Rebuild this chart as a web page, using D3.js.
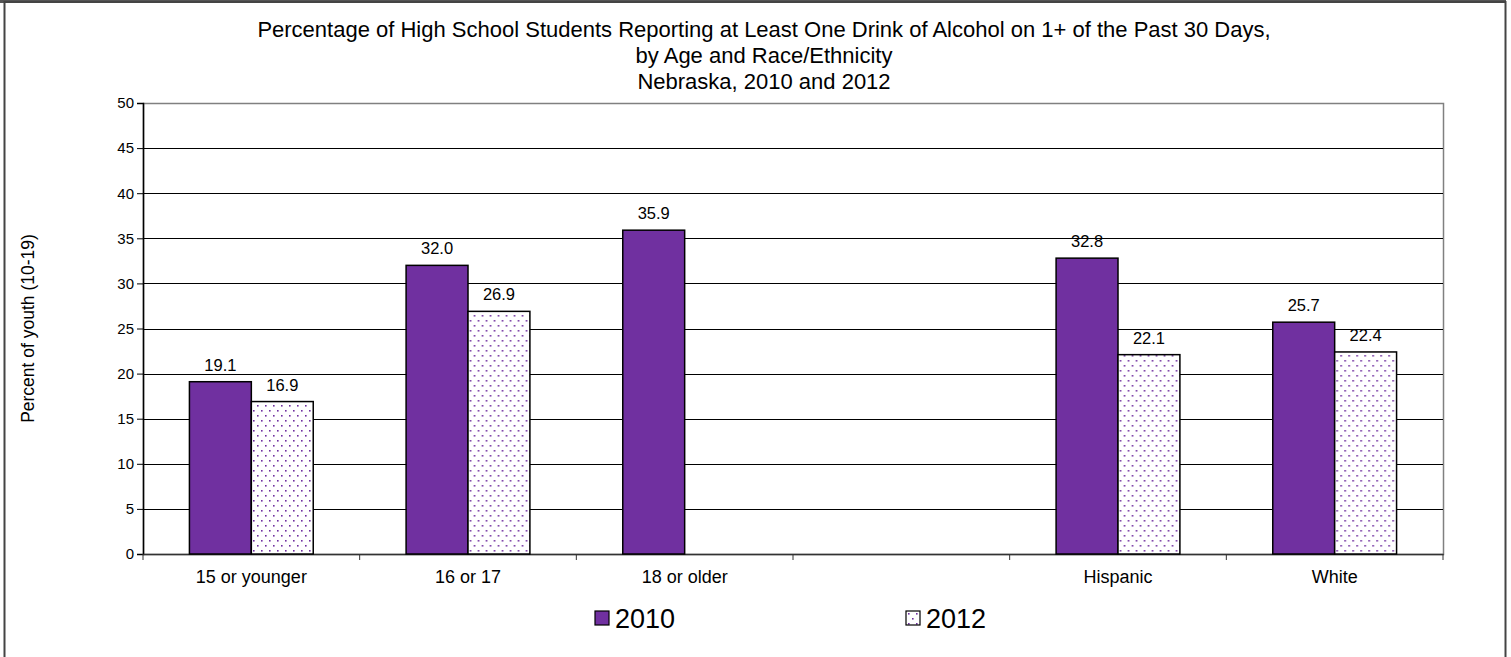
<!DOCTYPE html>
<html lang="en">
  <head>
    <meta charset="UTF-8" />
    <title>Alcohol use chart</title>
    <script src="https://d3js.org/d3.v7.min.js"></script>
    <style>
      body {
        margin: 0;
        background: #fff;
      }
      text {
        font-family: "Liberation Sans", Arial, sans-serif;
        fill: #000;
      }
    </style>
  </head>
  <body>
    <div class="chart"></div>

    <script>
      // data
      var categories = ["15 or younger", "16 or 17", "18 or older", " ", "Hispanic", "White"];
      var years = ["2010", "2012"];
      var values2010 = [19.1, 32.0, 35.9, null, 32.8, 25.7];
      var values2012 = [16.9, 26.9, null, null, 22.1, 22.4];
      var yTicks = [0, 5, 10, 15, 20, 25, 30, 35, 40, 45, 50];
      var titleLines = [
        "Percentage of High School Students Reporting at Least One Drink of Alcohol on 1+ of the Past 30 Days,",
        "by Age and Race/Ethnicity",
        "Nebraska, 2010 and 2012"
      ];

      var W = 1511, H = 657;
      var margin = { top: 103, right: 68, bottom: 103, left: 143 };
      var width = W - margin.left - margin.right;
      var height = H - margin.top - margin.bottom;
      var purple = "#7030a0";
      var font = "Liberation Sans, Arial, sans-serif";

      var svgRoot = d3.select(".chart").append("svg")
        .attr("width", W)
        .attr("height", H);

      // 2012 fill: white with small purple dots
      var pat = svgRoot.append("defs").append("pattern")
        .attr("id", "dots")
        .attr("patternUnits", "userSpaceOnUse")
        .attr("width", 8)
        .attr("height", 10);
      pat.append("rect").attr("width", 8).attr("height", 10).attr("fill", "#fff");
      pat.append("rect").attr("x", 2).attr("y", 2).attr("width", 1.6).attr("height", 1.6).attr("fill", purple);
      pat.append("rect").attr("x", 6).attr("y", 7).attr("width", 1.6).attr("height", 1.6).attr("fill", purple);

      // outer border
      svgRoot.append("line")
        .attr("x1", 0).attr("x2", 1506)
        .attr("y1", 1.5).attr("y2", 1.5)
        .attr("stroke", "#555")
        .attr("stroke-width", 3);
      svgRoot.append("rect")
        .attr("x", 4.5).attr("y", 2)
        .attr("width", 1501).attr("height", 670)
        .attr("fill", "none")
        .attr("stroke", "#444")
        .attr("stroke-width", 2);

      // title
      svgRoot.append("text")
        .attr("text-anchor", "middle")
        .attr("font-size", 22)
        .selectAll("tspan")
        .data(titleLines)
        .join("tspan")
        .attr("x", 764)
        .attr("y", (d, i) => 37 + i * 26)
        .text((d) => d);

      var svg = svgRoot.append("g")
        .attr("transform", "translate(" + margin.left + "," + margin.top + ")");

      var x0 = d3.scaleBand().domain(categories).range([0, width]).padding(0);
      var x1 = d3.scaleBand().domain(years).range([0, x0.bandwidth()])
        .paddingInner(0).paddingOuter(0.75);
      var y = d3.scaleLinear().domain([0, 50]).range([height, 0]);

      // plot area frame (gray) and gridlines
      svg.append("rect")
        .attr("x", 0.5).attr("y", 0.5)
        .attr("width", width).attr("height", height)
        .attr("fill", "none")
        .attr("stroke", "#808080")
        .attr("stroke-width", 1.5);

      svg.append("g")
        .selectAll("line")
        .data(yTicks.slice(1, -1))
        .join("line")
        .attr("x1", 0).attr("x2", width)
        .attr("y1", (d) => Math.round(y(d)) + 0.5)
        .attr("y2", (d) => Math.round(y(d)) + 0.5)
        .attr("stroke", "#000")
        .attr("stroke-width", 1);

      // y axis
      var yAxis = d3.axisLeft(y).tickValues(yTicks).tickSize(6).tickPadding(3);
      var gy = svg.append("g").call(yAxis);
      gy.selectAll("text").attr("font-size", 15).attr("font-family", font);
      gy.select(".domain").attr("stroke", "#000").attr("stroke-width", 1.5);

      // x axis: labels at centres, ticks at category boundaries
      var xAxis = d3.axisBottom(x0).tickSize(0);
      var gx = svg.append("g").attr("transform", "translate(0," + height + ")").call(xAxis);
      gx.selectAll("text")
        .attr("font-size", 18)
        .attr("font-family", font)
        .attr("y", 29)
        .attr("dy", null);
      gx.select(".domain").attr("stroke", "#333").attr("stroke-width", 1.5);
      gx.selectAll(".bound")
        .data(categories.map((c) => x0(c)).concat([width]))
        .join("line")
        .attr("class", "bound")
        .attr("x1", (d) => d).attr("x2", (d) => d)
        .attr("y1", 0).attr("y2", 6)
        .attr("stroke", "#333");

      // bars
      var rows = categories.map((c, i) => ({
        cat: c,
        vals: [
          { year: "2010", v: values2010[i] },
          { year: "2012", v: values2012[i] }
        ]
      }));

      var groups = svg.append("g")
        .selectAll("g")
        .data(rows)
        .join("g")
        .attr("transform", (d) => "translate(" + x0(d.cat) + ",0)");

      groups.selectAll("rect")
        .data((d) => d.vals.filter((e) => e.v != null))
        .join("rect")
        .attr("x", (d) => x1(d.year))
        .attr("y", (d) => y(d.v))
        .attr("width", x1.bandwidth())
        .attr("height", (d) => height - y(d.v))
        .attr("fill", (d) => (d.year === "2010" ? purple : "url(#dots)"))
        .attr("stroke", "#000")
        .attr("stroke-width", 1.5);

      groups.selectAll("text")
        .data((d) => d.vals.filter((e) => e.v != null))
        .join("text")
        .attr("x", (d) => x1(d.year) + x1.bandwidth() / 2)
        .attr("y", (d) => y(d.v) - 11)
        .attr("text-anchor", "middle")
        .attr("font-size", 16.5)
        .text((d) => d3.format(".1f")(d.v));

      // y axis title
      svgRoot.append("text")
        .attr("transform", "translate(34," + (margin.top + height / 2) + ") rotate(-90)")
        .attr("text-anchor", "middle")
        .attr("font-size", 17.5)
        .text("Percent of youth (10-19)");

      // legend
      var legendX = [595, 906];
      var legend = svgRoot.append("g")
        .selectAll("g")
        .data(years)
        .join("g")
        .attr("transform", (d, i) => "translate(" + legendX[i] + ",611)");
      legend.append("rect")
        .attr("width", 14).attr("height", 14)
        .attr("fill", (d) => (d === "2010" ? purple : "url(#dots)"))
        .attr("stroke", "#000")
        .attr("stroke-width", 1.2);
      legend.append("text")
        .attr("x", 20).attr("y", 17)
        .attr("font-size", 27)
        .text((d) => d);
    </script>
  </body>
</html>
